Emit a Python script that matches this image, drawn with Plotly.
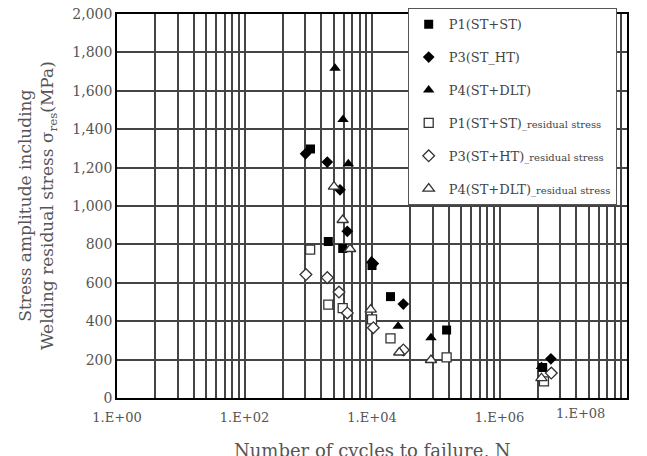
import plotly.graph_objects as go

# ---- data ----
p1_N = [1085, 2063, 3470, 10000, 19500, 148000, 4760000]
p1_S = [1297, 815, 779, 690, 528, 354, 159]
p3_N = [906, 1990, 3150, 4100, 10480, 31000, 6400000]
p3_S = [1272, 1229, 1084, 868, 700, 489, 204]
p4_N = [2630, 3510, 4250, 9800, 25700, 84200, 4550000]
p4_S = [1718, 1451, 1220, 715, 374, 314, 164]

p1r_N = [1070, 2063, 3470, 10000, 19500, 148000, 4980000]
p1r_S = [773, 486, 468, 409, 311, 212, 87]
p3r_N = [920, 1990, 3035, 4100, 10480, 31000, 6500000]
p3r_S = [643, 627, 552, 443, 366, 250, 130]
p4r_N = [2535, 3470, 4520, 9540, 26800, 84200, 4550000]
p4r_S = [1101, 927, 776, 460, 237, 198, 103]

x_tickvals = [1, 1e2, 1e4, 1e6]
x_ticktext = ["1.E+00", "1.E+02", "1.E+04", "1.E+06"]
last_tick_label = "1.E+08"
x_title = "Number of cycles to failure, N"
y_title = "Stress amplitude including<br>Welding residual stress σ<sub>res</sub>(MPa)"

FONT = "DejaVu Serif"
GRID = "#444444"
small = "<span style='font-size:10px'>_residual stress</span>"

series = [
    ("P1(ST+ST)", p1_N, p1_S, "square", "black"),
    ("P3(ST_HT)", p3_N, p3_S, "diamond", "black"),
    ("P4(ST+DLT)", p4_N, p4_S, "triangle-up", "black"),
    ("P1(ST+ST)" + small, p1r_N, p1r_S, "square", "white"),
    ("P3(ST+HT)" + small, p3r_N, p3r_S, "diamond", "white"),
    ("P4(ST+DLT)" + small, p4r_N, p4r_S, "triangle-up", "white"),
]

fig = go.Figure()
for i, (name, xs, ys, sym, fill) in enumerate(series):
    size = 10 if "triangle" in sym else 9
    fig.add_trace(go.Scatter(
        x=xs, y=ys, mode="markers", name=name, legendgroup=str(i),
        marker=dict(symbol=sym, size=size, color=fill,
                    line=dict(color="#333" if fill == "white" else "black",
                              width=1.3 if fill == "white" else 0)),
    ))

# minor grid pattern drawn inside each major (x100) interval
minor_vals = []
for j in range(4):
    for k in range(2, 10):
        minor_vals.append(k * k * 100 ** j)

fig.update_layout(
    width=647, height=456,
    margin=dict(l=117, r=20, t=8, b=58),
    paper_bgcolor="white", plot_bgcolor="white",
    font=dict(family=FONT, color="#555", size=14),
    showlegend=True,
    legend=dict(x=0.57, y=1.015, xanchor="left", yanchor="top",
                bgcolor="white", bordercolor="#555", borderwidth=1,
                font=dict(family=FONT, size=13, color="#444"),
                traceorder="grouped", tracegroupgap=13),
    xaxis=dict(type="log", range=[0, 8], automargin=False,
               tickmode="array", tickvals=x_tickvals, ticktext=x_ticktext,
               showgrid=True, gridcolor=GRID, gridwidth=1.5,
               minor=dict(tickmode="array", tickvals=minor_vals, showgrid=True,
                          gridcolor=GRID, gridwidth=1.5, ticks=""),
               showline=True, linecolor="black", linewidth=1.5, mirror=True,
               ticks="", ticklabelstandoff=7,
               tickfont=dict(size=13, color="#555"),
               zeroline=False),
    yaxis=dict(range=[0, 2000], dtick=200, tickformat=",d", automargin=False,
               showgrid=True, gridcolor=GRID, gridwidth=1.5,
               showline=True, linecolor="black", linewidth=1.5, mirror=True,
               ticks="", tickfont=dict(size=14, color="#555"),
               zeroline=False),
)

fig.add_annotation(x=0.96, y=0, xref="paper", yref="paper", yanchor="top",
                   yshift=-6, text=last_tick_label, showarrow=False,
                   font=dict(family=FONT, size=13, color="#555"))
fig.add_annotation(x=0.5, y=0, xref="paper", yref="paper", yanchor="middle",
                   yshift=-52, text=x_title, showarrow=False,
                   font=dict(family=FONT, size=18, color="#555"))
fig.add_annotation(x=0, y=0.5, xref="paper", yref="paper",
                   xanchor="center", yanchor="middle", xshift=-80,
                   text=y_title, textangle=-90, showarrow=False,
                   font=dict(family=FONT, size=17, color="#555"))

fig.write_html("out.html")
